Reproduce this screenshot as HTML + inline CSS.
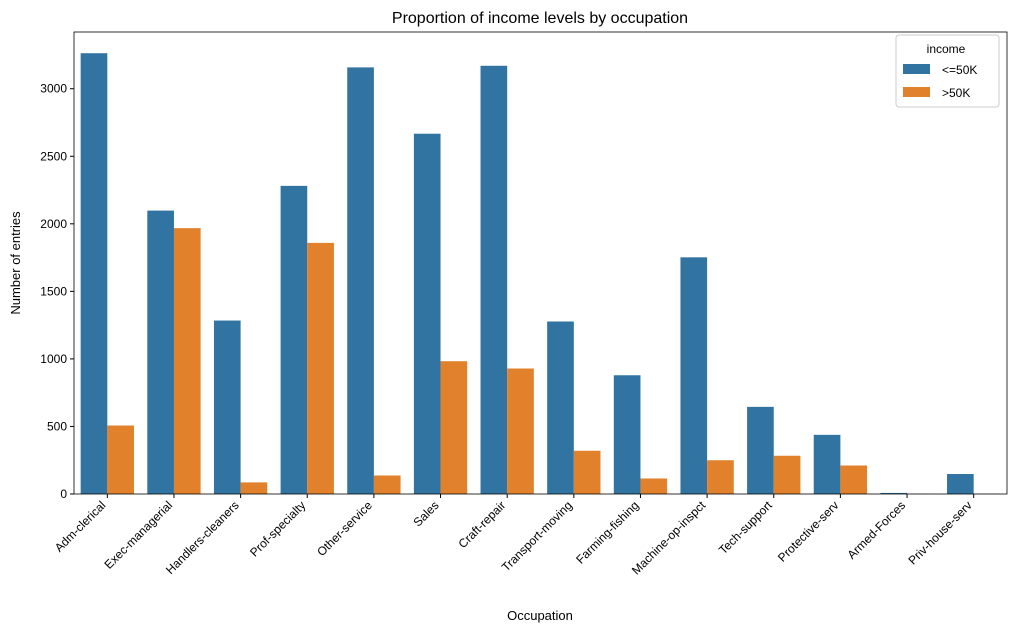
<!DOCTYPE html>
<html><head><meta charset="utf-8"><style>
body{margin:0;background:#fff;}
svg{display:block;font-family:"Liberation Sans","DejaVu Sans",sans-serif;}
</style></head><body>
<svg id="chart" width="1014" height="633">
<text x="540" y="23" text-anchor="middle" font-size="16">Proportion of income levels by occupation</text>
<g id="plot"></g>
<text x="540" y="620" text-anchor="middle" font-size="13">Occupation</text>
<text x="20" y="263" text-anchor="middle" font-size="13" transform="rotate(-90 20 263)">Number of entries</text>
<g>
<rect x="896" y="35" width="103" height="72" fill="#fff" stroke="#ccc" rx="3"/>
<text x="946" y="53" text-anchor="middle" font-size="12">income</text>
<rect x="903" y="64" width="27" height="10" fill="#3274a1"/>
<text x="942" y="74" font-size="12">&lt;=50K</text>
<rect x="903" y="87" width="27" height="10" fill="#e1812c"/>
<text x="942" y="97" font-size="12">&gt;50K</text>
</g>
</svg>
<script>
const categories=["Adm-clerical","Exec-managerial","Handlers-cleaners","Prof-specialty","Other-service","Sales","Craft-repair","Transport-moving","Farming-fishing","Machine-op-inspct","Tech-support","Protective-serv","Armed-Forces","Priv-house-serv"];
const lowIncome=[3263,2098,1284,2281,3158,2667,3170,1277,879,1752,645,438,8,148];
const highIncome=[507,1968,86,1859,137,983,929,320,115,250,283,211,1,1];
const yTicks=[0,500,1000,1500,2000,2500,3000];
const L=74,R=1007,T=32,B=494,yMax=3420;
const ns="http://www.w3.org/2000/svg";
const g=document.getElementById('plot');
const y=v=>B-(v/yMax)*(B-T);
const band=(R-L)/categories.length;
const x=i=>L+band*(i+0.5);
function mk(t,a){const e=document.createElementNS(ns,t);for(const k in a)e.setAttribute(k,a[k]);g.appendChild(e);return e;}
yTicks.forEach(v=>{
 const l=mk('line',{x1:L-4,x2:L,y1:y(v),y2:y(v),stroke:'#000'});
 
 
 const t=mk('text',{x:L-7,y:y(v)+4,'text-anchor':'end','font-size':12});
 t.textContent=v;
 
 
});
const bw=band*0.4;
categories.forEach((c,i)=>{
 const cx=x(i);
 const b1=mk('rect',{x:cx-bw,y:y(lowIncome[i]),width:bw,height:B-y(lowIncome[i]),fill:'#3274a1'});
 
 
 const b2=mk('rect',{x:cx,y:y(highIncome[i]),width:bw,height:B-y(highIncome[i]),fill:'#e1812c'});
 
 
 mk('line',{x1:cx,x2:cx,y1:B,y2:B+4,stroke:'#000'});
 const t=mk('text',{x:cx-1,y:B+12,'text-anchor':'end','font-size':12,transform:`rotate(-45 ${cx-1} ${B+12})`});
 t.textContent=c;
 
 
});
const fr=mk('rect',{x:L,y:T,width:R-L,height:B-T,fill:'none',stroke:'#000','stroke-width':0.8});


</script>
</body></html>
